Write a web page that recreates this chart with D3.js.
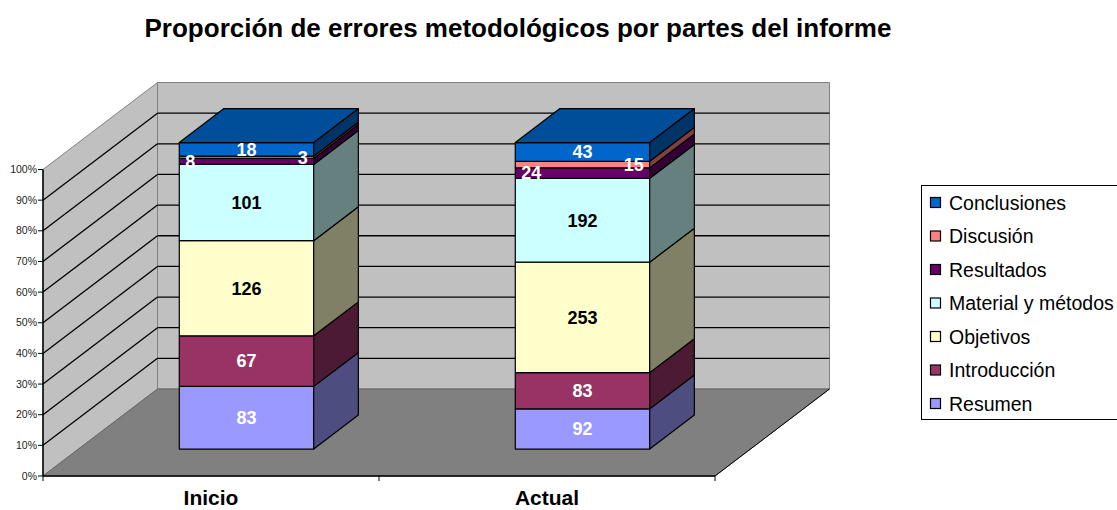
<!DOCTYPE html>
<html>
<head>
<meta charset="utf-8">
<title>Proporción de errores metodológicos</title>
<script src="https://cdn.jsdelivr.net/npm/d3@7"></script>
<style>
	body { margin: 0; background: #fff; }
	text { font-family: Arial, "Liberation Sans", sans-serif; }
</style>
</head>
<body>
<script>
// datos
var categorias = ["Inicio", "Actual"];
var series = ["Resumen", "Introducción", "Objetivos", "Material y métodos", "Resultados", "Discusión", "Conclusiones"];
var valoresInicio = [83, 67, 126, 101, 8, 3, 18];
var valoresActual = [92, 83, 253, 192, 24, 15, 43];
var colores = ["#9999FF", "#993366", "#FFFFCC", "#CCFFFF", "#660066", "#FF8080", "#0066CC"];
var colorEtiqueta = ["#fff", "#fff", "#000", "#000", "#fff", "#fff", "#fff"];
var ticksY = [0, 0.1, 0.2, 0.3, 0.4, 0.5, 0.6, 0.7, 0.8, 0.9, 1];

var width = 1117, height = 510;

// tabla para d3.stack
var tabla = categorias.map(function(c, i){
	var fila = {cat: c};
	var vals = i == 0 ? valoresInicio : valoresActual;
	series.forEach(function(s, j){ fila[s] = vals[j]; });
	return fila;
});

var pila = d3.stack().keys(series).offset(d3.stackOffsetExpand)(tabla);

var svg = d3.select("body").append("svg")
	.attr("width", width)
	.attr("height", height);

// escalas del plano frontal
var x = d3.scaleBand().domain(categorias).range([43, 715]).paddingInner(0.6).paddingOuter(0.3);
var y = d3.scaleLinear().domain([0, 1]).range([476, 169.5]);

// vector de profundidad (fondo completo)
var profX = 114.5, profY = -87;
var zFrente = 0.31, zFondo = 0.70;

function p(px, py, z){
	return [px + z*profX, py + z*profY];
}
function poly(pts){
	return pts.map(function(d){ return d[0] + "," + d[1]; }).join(" ");
}
function oscurecer(c, f){
	var r = d3.rgb(c);
	return d3.rgb(r.r*f, r.g*f, r.b*f).toString();
}

var x0 = x.range()[0], x1 = x.range()[1];
var yb = y(0), yt = y(1);

// paredes y suelo
svg.append("polygon")
	.attr("points", poly([[x0, yb], [x0, yt], p(x0, yt, 1), p(x0, yb, 1)]))
	.attr("fill", "#C0C0C0").attr("stroke", "#808080").attr("stroke-width", 1);
svg.append("polygon")
	.attr("points", poly([p(x0, yt, 1), p(x1, yt, 1), p(x1, yb, 1), p(x0, yb, 1)]))
	.attr("fill", "#C0C0C0").attr("stroke", "#808080").attr("stroke-width", 1);
svg.append("polygon")
	.attr("points", poly([[x0, yb], [x1, yb], p(x1, yb, 1), p(x0, yb, 1)]))
	.attr("fill", "#808080").attr("stroke", "#666").attr("stroke-width", 1);
svg.append("line")
	.attr("x1", x1).attr("y1", yb)
	.attr("x2", p(x1, yb, 1)[0]).attr("y2", p(x1, yb, 1)[1])
	.attr("stroke", "#000").attr("stroke-width", 1);

// lineas de division
var lineasGrid = ticksY.filter(function(t){ return t > 0 && t < 1; });
lineasGrid.forEach(function(t){
	var a = p(x0, y(t), 1);
	svg.append("line")
		.attr("x1", x0).attr("y1", y(t))
		.attr("x2", a[0]).attr("y2", a[1])
		.attr("stroke", "#000").attr("stroke-width", 1.3);
	svg.append("line")
		.attr("x1", a[0]).attr("y1", a[1])
		.attr("x2", p(x1, y(t), 1)[0]).attr("y2", a[1])
		.attr("stroke", "#000").attr("stroke-width", 1.3);
});

// eje de valores
var ejeY = svg.append("g");
ejeY.append("line")
	.attr("x1", x0).attr("x2", x0).attr("y1", yt).attr("y2", yb)
	.attr("stroke", "#000").attr("stroke-width", 1.5);
ticksY.forEach(function(t){
	ejeY.append("line")
		.attr("x1", x0 - 5).attr("x2", x0).attr("y1", y(t)).attr("y2", y(t))
		.attr("stroke", "#000");
	ejeY.append("text")
		.attr("x", x0 - 6).attr("y", y(t)).attr("dy", "0.35em")
		.attr("text-anchor", "end")
		.style("font-size", "10.5px").style("fill", "#222")
		.text(d3.format(".0%")(t));
});

// eje de categorias
svg.append("line")
	.attr("x1", x0).attr("x2", x1).attr("y1", yb).attr("y2", yb)
	.attr("stroke", "#000").attr("stroke-width", 1.5);
var paso = x.step();
[x0, x0 + paso, x1].forEach(function(tx){
	svg.append("line")
		.attr("x1", tx).attr("x2", tx).attr("y1", yb).attr("y2", yb + 5)
		.attr("stroke", "#000");
});
categorias.forEach(function(c){
	svg.append("text")
		.attr("x", x(c) + x.bandwidth()/2).attr("y", 505)
		.attr("text-anchor", "middle")
		.style("font-size", "21px").style("font-weight", "bold")
		.text(c);
});

// barras 3D apiladas
categorias.forEach(function(c, ci){
	var g = svg.append("g");
	var bx0 = x(c), bx1 = x(c) + x.bandwidth();
	pila.forEach(function(capa, si){
		var v0 = capa[ci][0], v1 = capa[ci][1];
		var ya = y(v0), yz = y(v1);
		var col = colores[si];
		// cara frontal
		g.append("polygon")
			.attr("points", poly([p(bx0, ya, zFrente), p(bx1, ya, zFrente), p(bx1, yz, zFrente), p(bx0, yz, zFrente)]))
			.attr("fill", col).attr("stroke", "#000").attr("stroke-width", 1.2).attr("stroke-linejoin", "round");
		// cara lateral
		g.append("polygon")
			.attr("points", poly([p(bx1, ya, zFrente), p(bx1, ya, zFondo), p(bx1, yz, zFondo), p(bx1, yz, zFrente)]))
			.attr("fill", oscurecer(col, 0.5)).attr("stroke", "#000").attr("stroke-width", 1.2).attr("stroke-linejoin", "round");
		// tapa
		if (si == series.length - 1){
			g.append("polygon")
				.attr("points", poly([p(bx0, yz, zFrente), p(bx1, yz, zFrente), p(bx1, yz, zFondo), p(bx0, yz, zFondo)]))
				.attr("fill", oscurecer(col, 0.75)).attr("stroke", "#000").attr("stroke-width", 1.2).attr("stroke-linejoin", "round");
		}
	});
	// etiquetas de valor
	pila.forEach(function(capa, si){
		var v0 = capa[ci][0], v1 = capa[ci][1];
		var yc = (y(v0) + y(v1))/2 + zFrente*profY;
		var fx0 = bx0 + zFrente*profX, fx1 = bx1 + zFrente*profX;
		var tx = (fx0 + fx1)/2, anc = "middle";
		if (series[si] == "Resultados"){ tx = fx0 + 6; anc = "start"; }
		if (series[si] == "Discusión"){ tx = fx1 - 6; anc = "end"; }
		g.append("text")
			.attr("x", tx).attr("y", yc).attr("dy", "0.35em")
			.attr("text-anchor", anc)
			.style("font-size", "18px").style("font-weight", "bold")
			.style("fill", colorEtiqueta[si])
			.text(capa[ci].data[series[si]]);
	});
});

// titulo
svg.append("text")
	.attr("x", 518).attr("y", 37)
	.attr("text-anchor", "middle")
	.style("font-size", "26px").style("font-weight", "bold")
	.text("Proporción de errores metodológicos por partes del informe");

// leyenda
var ley = svg.append("g");
ley.append("rect")
	.attr("x", 921.5).attr("y", 185.5).attr("width", 220).attr("height", 234)
	.attr("fill", "#fff").attr("stroke", "#000").attr("stroke-width", 1);
series.slice().reverse().forEach(function(s, i){
	var si = series.indexOf(s);
	var cy = 203 + i*33.5;
	ley.append("rect")
		.attr("x", 930.5).attr("y", cy - 5.5).attr("width", 10).attr("height", 10)
		.attr("fill", colores[si]).attr("stroke", "#000").attr("stroke-width", 1.2);
	ley.append("text")
		.attr("x", 949).attr("y", cy).attr("dy", "0.35em")
		.style("font-size", "19.5px")
		.text(s);
});
</script>
</body>
</html>
